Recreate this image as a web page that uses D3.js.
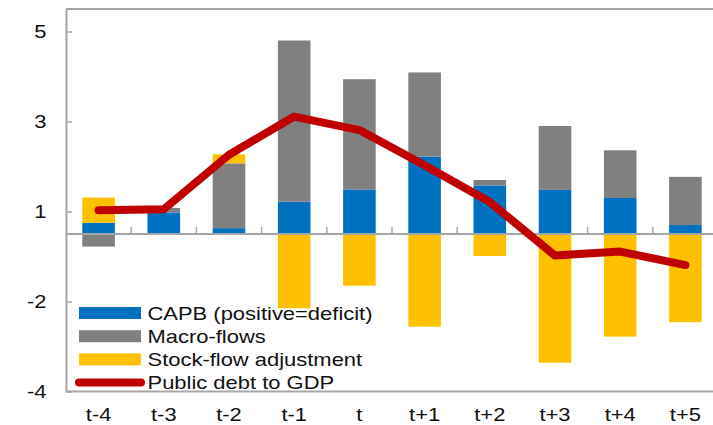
<!DOCTYPE html>
<html><head><meta charset="utf-8">
<script src="https://cdn.jsdelivr.net/npm/d3@7"></script>
<style>body{margin:0;background:#fff}svg{display:block;font-family:"Liberation Sans",Arial,sans-serif}</style>
</head><body><svg id="c" width="713" height="425"></svg>
<script>
const categories = ["t-4","t-3","t-2","t-1","t","t+1","t+2","t+3","t+4","t+5"];
const capb  = [0.25,0.48,0.13,0.72,0.99,1.72,1.08,0.98,0.80,0.20];
const macro = [-0.28,0.10,1.44,3.58,2.45,1.87,0.12,1.42,1.06,1.07];
const sfa   = [0.56,0.00,0.20,-1.65,-1.15,-2.06,-0.49,-2.86,-2.28,-1.96];
const debt  = [0.53,0.55,1.76,2.61,2.31,1.53,0.71,-0.48,-0.39,-0.69];
const tickValues = [-3.5,-1.5,0.5,2.5,4.5];
const tickLabels = ["-4","-2","1","3","5"];
const seriesNames = ["CAPB (positive=deficit)","Macro-flows","Stock-flow adjustment","Public debt to GDP"];
const colors = ["#0070C0","#808080","#FFC000","#C00000"];

const SX = 1.22; // horizontal text stretch seen in reference
const svg = d3.select("#c");
const L=66, R=718, T=9, B=391.5;
const y = d3.scaleLinear().domain([-3.5,5]).range([B,T]);
const x = d3.scaleBand().domain(categories).range([L,R]).paddingInner(0.5).paddingOuter(0.25);
const step = x.step();

function stretchText(g, tx, ty, str, anchor){
  g.append("g").attr("transform",`translate(${tx},${ty}) scale(${SX},1)`)
   .append("text").attr("x",0).attr("y",0).attr("text-anchor",anchor)
   .attr("font-size",18).attr("fill","#111").text(str);
}

const rows = categories.map((c,i)=>({cat:c,capb:capb[i],macro:macro[i],sfa:sfa[i]}));
const stack = d3.stack().keys(["capb","macro","sfa"]).offset(d3.stackOffsetDiverging);
const series = stack(rows);

const axisCol = "#A6A6A6";
svg.append("line").attr("x1",L).attr("x2",713).attr("y1",T).attr("y2",T).attr("stroke",axisCol).attr("stroke-width",2);
svg.append("line").attr("x1",L).attr("x2",713).attr("y1",B).attr("y2",B).attr("stroke",axisCol).attr("stroke-width",2);

series.forEach((s,k)=>{
  svg.append("g").selectAll("rect").data(s).join("rect")
    .attr("x",d=>x(d.data.cat)).attr("width",x.bandwidth())
    .attr("y",d=>y(Math.max(d[0],d[1]))).attr("height",d=>Math.abs(y(d[0])-y(d[1])))
    .attr("fill",colors[k]);
});

// y axis
const yAxis = d3.axisLeft(y).tickValues(tickValues).tickFormat("").tickSizeInner(-6).tickSizeOuter(0);
const gy = svg.append("g").attr("transform",`translate(${L},0)`).call(yAxis);
gy.select(".domain").attr("stroke",axisCol).attr("stroke-width",2);
gy.selectAll(".tick line").attr("stroke",axisCol).attr("stroke-width",1.5);
const gyl = svg.append("g");
tickValues.forEach((v,i)=>stretchText(gyl, 46.5, y(v)+6.5, tickLabels[i], "end"));

// zero line with category ticks
svg.append("line").attr("x1",L).attr("x2",713).attr("y1",y(0)).attr("y2",y(0)).attr("stroke",axisCol).attr("stroke-width",2);
svg.append("g").selectAll("line").data(categories.slice(1)).join("line")
  .attr("x1",d=>x(d)-step*0.25).attr("x2",d=>x(d)-step*0.25)
  .attr("y1",y(0)).attr("y2",y(0)-7).attr("stroke",axisCol).attr("stroke-width",1.5);

// category labels
const gx = svg.append("g");
categories.forEach(c=>stretchText(gx, x(c)+x.bandwidth()/2, 421, c, "middle"));

// debt line
const line = d3.line().x((d,i)=>x(categories[i])+x.bandwidth()/2).y(d=>y(d));
svg.append("path").datum(debt).attr("d",line).attr("fill","none").attr("stroke",colors[3])
  .attr("stroke-width",8).attr("stroke-linejoin","round").attr("stroke-linecap","round");

// legend
const lg = svg.append("g");
const ly0 = 313, ldy = 23.2;
seriesNames.forEach((n,i)=>{
  const cy = ly0 + i*ldy;
  if(i<3){
    lg.append("rect").attr("x",79).attr("y",cy-6).attr("width",62).attr("height",12).attr("fill",colors[i]);
  } else {
    lg.append("line").attr("x1",79).attr("x2",141).attr("y1",cy).attr("y2",cy).attr("stroke",colors[3]).attr("stroke-width",8).attr("stroke-linecap","round");
  }
  stretchText(lg, 147.5, cy+6.5, n, "start");
});
</script></body></html>
